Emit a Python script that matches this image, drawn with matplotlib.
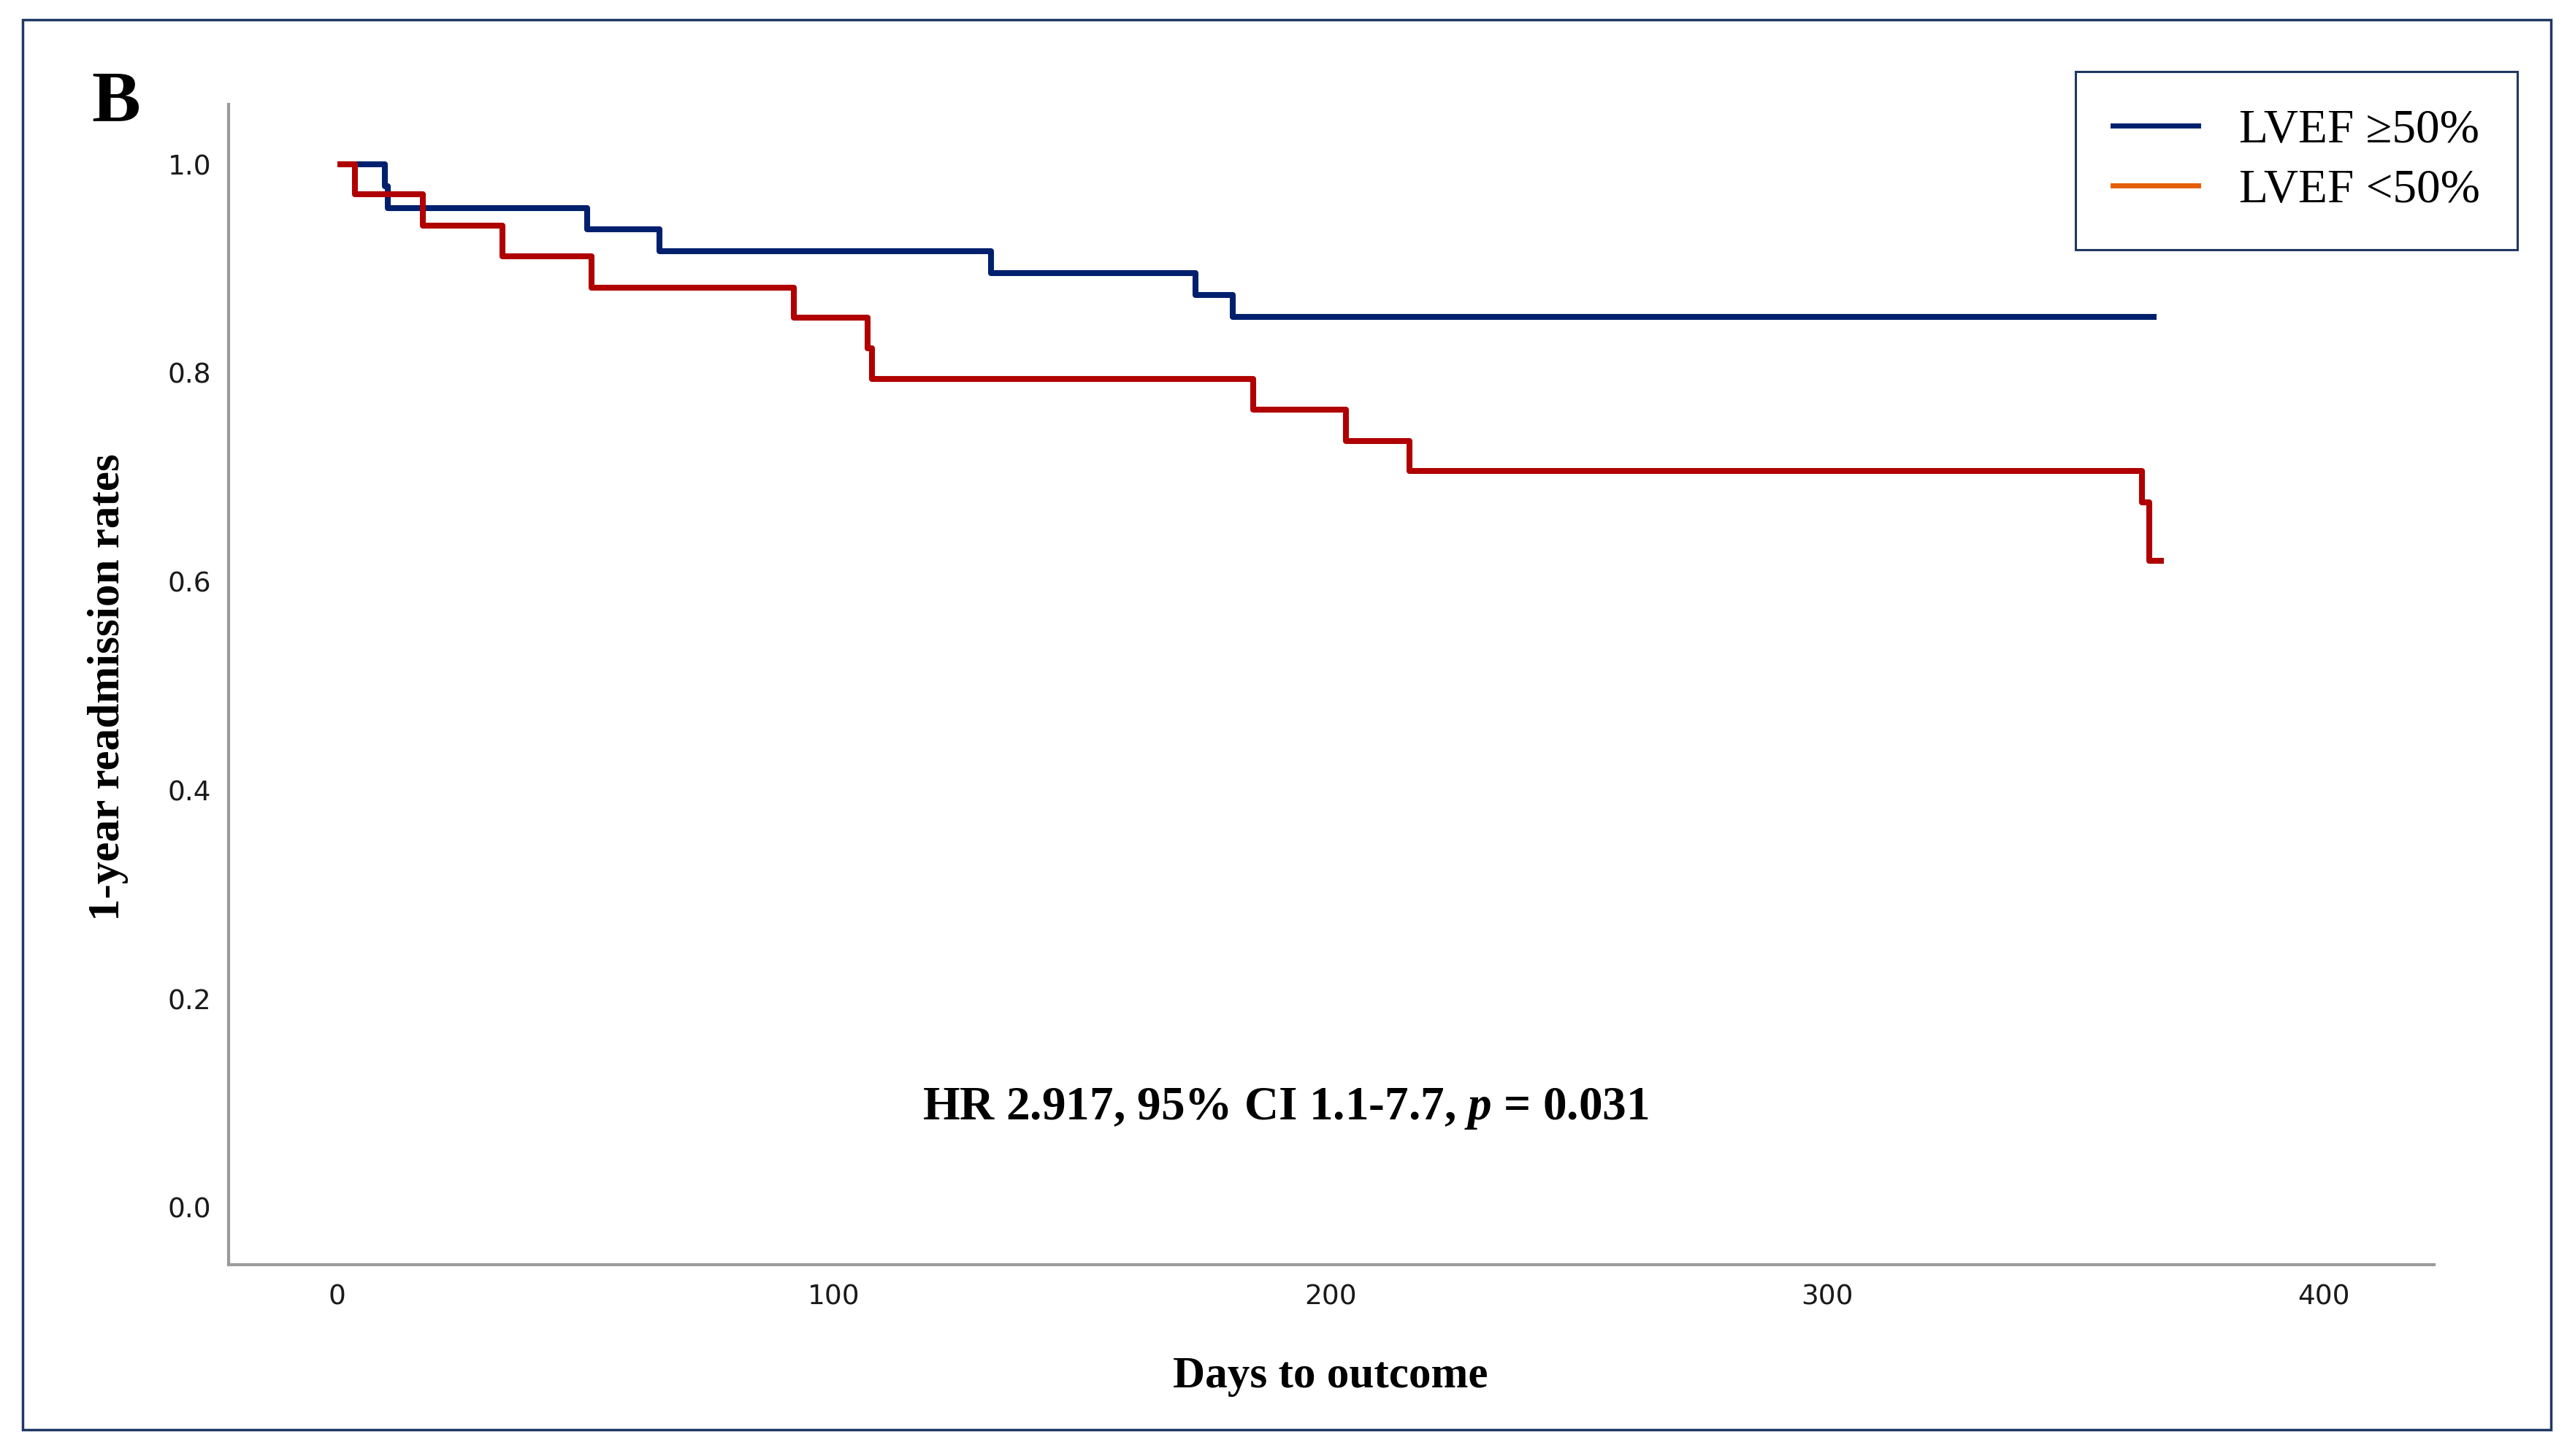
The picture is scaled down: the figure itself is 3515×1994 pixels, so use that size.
import matplotlib
matplotlib.use("Agg")
import matplotlib.pyplot as plt
from matplotlib.lines import Line2D
from matplotlib.patches import Rectangle

# Kaplan-Meier curves (days, cumulative rate)
days_high = [0, 9.6, 10.2, 50.3, 64.9, 131.6, 172.8, 180.3, 366.3]
rate_high = [1.0, 0.979, 0.958, 0.938, 0.917, 0.896, 0.875, 0.854, 0.854]

days_low = [0, 3.6, 17.2, 33.2, 51.2, 91.9, 106.8, 107.7, 184.4, 203.1, 215.9, 363.4, 364.9, 367.8]
rate_low = [1.0, 0.971, 0.941, 0.912, 0.882, 0.853, 0.824, 0.794, 0.765, 0.735, 0.706, 0.676, 0.620, 0.620]

labels = ["LVEF \u226550%", "LVEF <50%"]
x_ticks = [0, 100, 200, 300, 400]
y_ticks = [0.0, 0.2, 0.4, 0.6, 0.8, 1.0]
stat_text = r"HR 2.917, 95% CI 1.1-7.7, $\mathbfit{p}$ = 0.031"

navy = "#00206e"
red = "#b00000"
orange = "#e35f00"
serif = "Liberation Serif"

plt.rcParams["mathtext.fontset"] = "custom"
plt.rcParams["mathtext.bfit"] = "Liberation Serif:italic:bold"
plt.rcParams["mathtext.rm"] = "Liberation Serif:bold"

fig = plt.figure(figsize=(35.15, 19.94), dpi=100)
ax = fig.add_axes([0.08905, 0.13139, 0.94822 - 0.08905, 0.92829 - 0.13139])

ax.step(days_high, rate_high, where="post", color=navy, lw=5.8, solid_capstyle="butt")
ax.step(days_low, rate_low, where="post", color=red, lw=5.8, solid_capstyle="butt")

ax.set_xlim(-21.9, 422.2)
ax.set_ylim(-0.0546, 1.0574)
ax.set_xticks(x_ticks)
ax.set_yticks(y_ticks)
ax.set_xticklabels([str(v) for v in x_ticks])
ax.set_yticklabels(["%.1f" % v for v in y_ticks])
ax.tick_params(length=0, labelsize=27, colors="#1a1a1a")
ax.tick_params(axis="x", pad=19)
ax.tick_params(axis="y", pad=17)
for lab in ax.get_xticklabels() + ax.get_yticklabels():
    lab.set_fontfamily("DejaVu Sans")

for s in ["top", "right"]:
    ax.spines[s].set_visible(False)
for s in ["left", "bottom"]:
    ax.spines[s].set_color("#9a9a9a")
    ax.spines[s].set_linewidth(3)

# statistics annotation
ax.text(191, 0.095, stat_text, ha="center", va="center", fontsize=47,
        fontfamily=serif, fontweight="bold", color="black")

# axis titles
fig.text(148 / 3515, 1 - 941 / 1994, "1-year readmission rates", rotation=90,
         ha="center", va="center", fontsize=44, fontfamily=serif, fontweight="bold")
fig.text(1822 / 3515, 1 - 1885 / 1994, "Days to outcome",
         ha="center", va="center", fontsize=44, fontfamily=serif, fontweight="bold")

# panel letter
fig.text(159 / 3515, 1 - 141 / 1994, "B", ha="center", va="center",
         fontsize=72, fontfamily=serif, fontweight="bold")

# legend
handles = [Line2D([0], [0], color=navy, lw=5), Line2D([0], [0], color=orange, lw=5)]
leg = ax.legend(handles, labels, loc="upper left", bbox_to_anchor=(2842 / 3515, 1 - 98 / 1994),
                bbox_transform=fig.transFigure, borderaxespad=0, fancybox=False,
                framealpha=1, edgecolor="#1f3864", prop={"family": serif, "size": 47},
                handlelength=1.8, handletextpad=0.85, borderpad=0.78, labelspacing=0.35)
leg.get_frame().set_linewidth(2.2)

# outer frame
fig.patches.append(Rectangle((31 / 3515, 1 - 1958 / 1994), (3493 - 31) / 3515, (1958 - 27) / 1994,
                             transform=fig.transFigure, fill=False, edgecolor="#1f3864", lw=2.5))

fig.savefig("out.png", dpi=100)
